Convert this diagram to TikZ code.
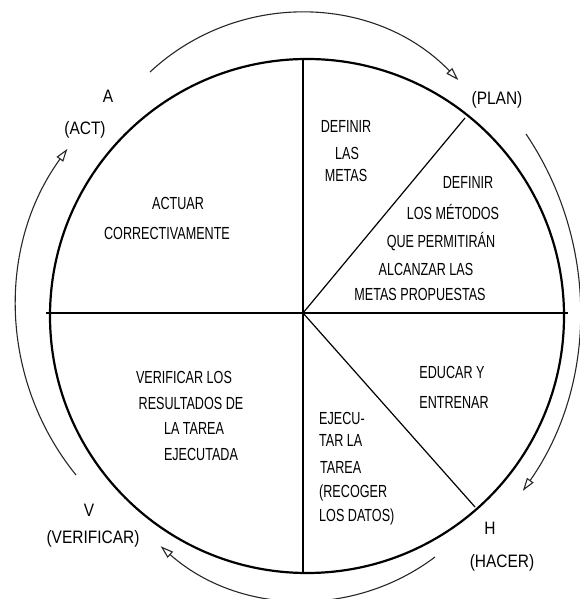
\documentclass[tikz,border=0pt]{standalone}
\usepackage{fontspec}
\setmainfont[FakeStretch=0.72]{Liberation Sans}
\newfontfamily\tagfont[FakeStretch=0.86]{Liberation Sans}
\usetikzlibrary{arrows.meta}

\begin{document}
\begin{tikzpicture}[x=1pt,y=1pt,>={Triangle[open,length=13pt,width=8pt]},
  txt/.style={inner sep=0pt,text height=12.5pt,text depth=0pt,font=\fontsize{17.5}{19}\selectfont},
  tag/.style={inner sep=0pt,text height=13pt,text depth=0pt,font=\tagfont\fontsize{18}{20}\selectfont},
  cyc/.style={->,line width=1.1pt,black!85},
  spoke/.style={line width=1.2pt}]
  \useasboundingbox (0,0) rectangle (579,599);
  % wheel
  \coordinate (C) at (307,283);
  \coordinate (O) at (303,286);
  \coordinate (T) at (303,540);
  \coordinate (B) at (303,26);
  \coordinate (L) at (46,286);
  \coordinate (R) at (568,286);
  \coordinate (P) at (465,481);
  \coordinate (Q) at (475,92);
  \draw[line width=2.2pt] (C) circle[radius=257pt];
  \draw[spoke] (T)--(B);
  \draw[spoke] (L)--(R);
  \draw[spoke] (O)--(P);
  \draw[spoke] (O)--(Q);
  % cycle arrows
  \draw[cyc] (150,527) arc[start angle=133,end angle=44,radius=220pt];
  \draw[cyc] (526,465) arc[start angle=34,end angle=-35,radius=315pt];
  \draw[cyc] (435,42) arc[start angle=-53,end angle=-131.5,radius=217pt];
  \draw[cyc] (76,124) arc[start angle=219,end angle=144,radius=268pt];
  % phases
  \node[tag] (a) at (108,503) {A};
  \node[tag] (act) at (85,471) {(ACT)};
  \node[tag] (plan) at (497,501) {(PLAN)};
  \node[tag] (h) at (490,71) {H};
  \node[tag] (hacer) at (502,38) {(HACER)};
  \node[tag] (v) at (89,89) {V};
  \node[tag] (verif) at (93,62) {(VERIFICAR)};
  % sectors
  \node[txt] (d1) at (346,473) {DEFINIR};
  \node[txt] (d2) at (347,446) {LAS};
  \node[txt] (d3) at (346,424) {METAS};
  \node[txt] (m1) at (468,417) {DEFINIR};
  \node[txt] (m2) at (453,386) {LOS MÉTODOS};
  \node[txt] (m3) at (441,358) {QUE PERMITIRÁN};
  \node[txt] (m4) at (426,330) {ALCANZAR LAS};
  \node[txt] (m5) at (420,305) {METAS PROPUESTAS};
  \node[txt] (c1) at (178,396) {ACTUAR};
  \node[txt] (c2) at (167,366) {CORRECTIVAMENTE};
  \node[txt] (e1) at (452,227) {EDUCAR Y};
  \node[txt] (e2) at (454,197) {ENTRENAR};
  \node[txt] (v1) at (184,222) {VERIFICAR LOS};
  \node[txt] (v2) at (191,196) {RESULTADOS DE};
  \node[txt] (v3) at (194,171) {LA TAREA};
  \node[txt] (v4) at (201,145) {EJECUTADA};
  \node[txt,anchor=west] (j1) at (319,181) {EJECU-};
  \node[txt,anchor=west] (j2) at (319,159) {TAR LA};
  \node[txt,anchor=west] (j3) at (320,132) {TAREA};
  \node[txt,anchor=west] (j4) at (319,108) {(RECOGER};
  \node[txt,anchor=west] (j5) at (319,84) {LOS DATOS)};
\end{tikzpicture}
\end{document}
